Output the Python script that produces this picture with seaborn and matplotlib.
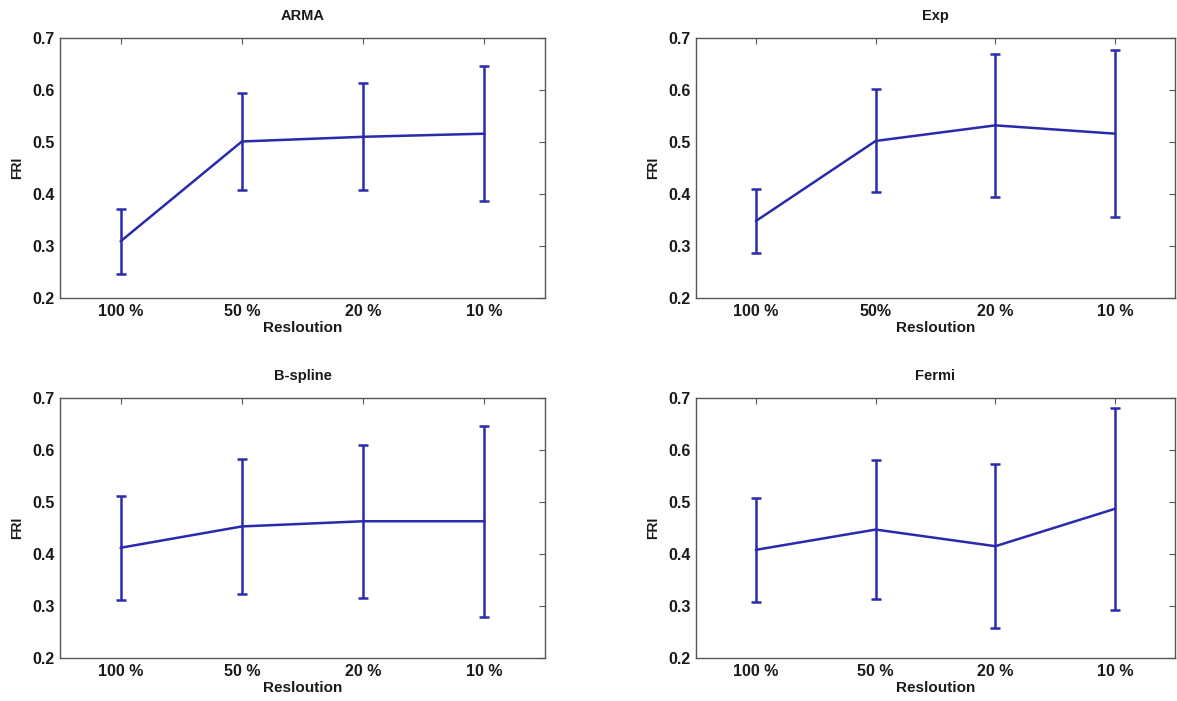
import numpy as np
import pandas as pd
import seaborn as sns
import matplotlib
matplotlib.use("Agg")
import matplotlib.pyplot as plt

# values (mean FRI and symmetric error per resolution)
resolutions = ['100 %', '50 %', '20 %', '10 %']
resolutions_exp = ['100 %', '50%', '20 %', '10 %']

arma_mean = [0.309, 0.501, 0.510, 0.516]
arma_err = [0.062, 0.094, 0.103, 0.130]

exp_mean = [0.348, 0.502, 0.532, 0.516]
exp_err = [0.062, 0.099, 0.137, 0.160]

bspline_mean = [0.412, 0.453, 0.463, 0.463]
bspline_err = [0.100, 0.130, 0.147, 0.184]

fermi_mean = [0.408, 0.447, 0.415, 0.487]
fermi_err = [0.100, 0.133, 0.158, 0.194]

panels = [
    ('ARMA', arma_mean, arma_err, resolutions),
    ('Exp', exp_mean, exp_err, resolutions_exp),
    ('B-spline', bspline_mean, bspline_err, resolutions),
    ('Fermi', fermi_mean, fermi_err, resolutions),
]

sns.set_theme(style="white")
plt.rcParams['font.family'] = ['Liberation Sans', 'DejaVu Sans']
plt.rcParams['font.weight'] = 'bold'
plt.rcParams['axes.labelweight'] = 'bold'
plt.rcParams['axes.titleweight'] = 'bold'

LINE = '#2a2aad'
SPINE = '#555555'
TEXT = '#1a1a1a'

fig = plt.figure(figsize=(11.77, 7.01), dpi=100)
W = 1177.0
H = 701.0
boxes = [
    (60, 38, 545, 298),
    (696, 38, 1175, 298),
    (60, 398, 545, 658),
    (696, 398, 1175, 658),
]

for (title, mean, err, labels), (x0, y0, x1, y1) in zip(panels, boxes):
    ax = fig.add_axes([x0 / W, 1 - y1 / H, (x1 - x0) / W, (y1 - y0) / H])
    df = pd.DataFrame({'Resloution': np.arange(len(labels)), 'FRI': mean})
    sns.lineplot(data=df, x='Resloution', y='FRI', color=LINE, linewidth=1.8, ax=ax)
    ax.errorbar(df['Resloution'], df['FRI'], yerr=err, fmt='none',
                ecolor=LINE, elinewidth=1.8, capsize=3.5, capthick=1.8)
    ax.set_xlim(-0.5, len(labels) - 0.5)
    ax.set_ylim(0.2, 0.7)
    ax.set_xticks(range(len(labels)))
    ax.set_xticklabels(labels)
    ax.set_yticks([0.2, 0.3, 0.4, 0.5, 0.6, 0.7])
    ax.set_yticklabels(['0.2', '0.3', '0.4', '0.5', '0.6', '0.7'])
    ax.tick_params(direction='in', length=4, width=0.8, color=SPINE,
                   labelcolor=TEXT, top=True, right=True, labelsize=11.5, pad=4)
    for lab in ax.get_xticklabels() + ax.get_yticklabels():
        lab.set_fontweight('bold')
    for sp in ax.spines.values():
        sp.set_visible(True)
        sp.set_color(SPINE)
        sp.set_linewidth(1.0)
    ax.set_title(title, fontsize=10.5, fontweight='bold', pad=13, color=TEXT)
    ax.set_xlabel('Resloution', fontsize=11, fontweight='bold', labelpad=2, color=TEXT)
    ax.set_ylabel('FRI', fontsize=10, fontweight='bold', labelpad=6, color=TEXT)

fig.savefig('out.png', dpi=100, facecolor='white')
